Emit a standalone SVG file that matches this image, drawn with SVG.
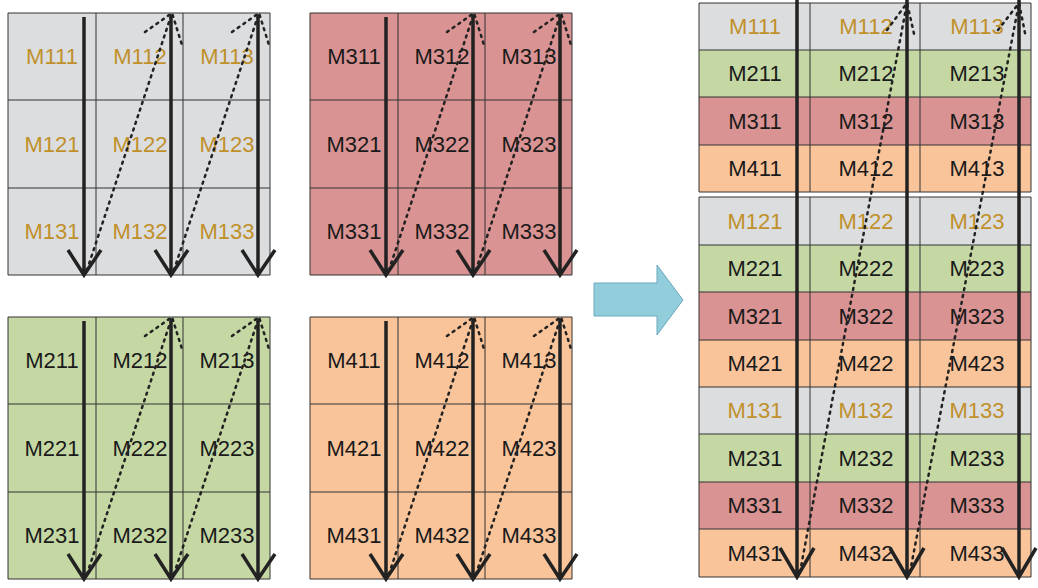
<svg xmlns="http://www.w3.org/2000/svg" width="1038" height="588" viewBox="0 0 1038 588">
<style>
text{font-family:"Liberation Sans",Arial,sans-serif;font-size:22px;text-anchor:middle;dominant-baseline:central;fill:#1a1a1a}
.o{fill:#c0902a}
.g1{fill:#dcdddf}.g2{fill:#c5d8a4}.g3{fill:#d99392}.g4{fill:#f9c49a}
.c{stroke:#333;stroke-width:1;fill:none}
.s{stroke:#222;stroke-width:3.5;fill:none}
.d{stroke:#222;stroke-width:2.5;fill:none;stroke-dasharray:2 5;stroke-linecap:round}
</style>
<g id="m1">
<rect class="g1" x="8" y="13" width="262" height="262"/>
<path class="c" d="M8 13h262v262H8zM96 13v262M183 13v262M8 100h262M8 188h262"/>
<text class="o" x="52" y="56">M111</text><text class="o" x="140" y="56">M112</text><text class="o" x="227" y="56">M113</text>
<text class="o" x="52" y="144">M121</text><text class="o" x="140" y="144">M122</text><text class="o" x="227" y="144">M123</text>
<text class="o" x="52" y="231">M131</text><text class="o" x="140" y="231">M132</text><text class="o" x="227" y="231">M133</text>
</g>
<g id="m3">
<rect class="g3" x="310" y="13" width="262" height="262"/>
<path class="c" d="M310 13h262v262H310zM398 13v262M485 13v262M310 100h262M310 188h262"/>
<text x="354" y="56">M311</text><text x="442" y="56">M312</text><text x="529" y="56">M313</text>
<text x="354" y="144">M321</text><text x="442" y="144">M322</text><text x="529" y="144">M323</text>
<text x="354" y="231">M331</text><text x="442" y="231">M332</text><text x="529" y="231">M333</text>
</g>
<g id="m2">
<rect class="g2" x="8" y="317" width="262" height="262"/>
<path class="c" d="M8 317h262v262H8zM96 317v262M183 317v262M8 404h262M8 492h262"/>
<text x="52" y="360">M211</text><text x="140" y="360">M212</text><text x="227" y="360">M213</text>
<text x="52" y="448">M221</text><text x="140" y="448">M222</text><text x="227" y="448">M223</text>
<text x="52" y="535">M231</text><text x="140" y="535">M232</text><text x="227" y="535">M233</text>
</g>
<g id="m4">
<rect class="g4" x="310" y="317" width="262" height="262"/>
<path class="c" d="M310 317h262v262H310zM398 317v262M485 317v262M310 404h262M310 492h262"/>
<text x="354" y="360">M411</text><text x="442" y="360">M412</text><text x="529" y="360">M413</text>
<text x="354" y="448">M421</text><text x="442" y="448">M422</text><text x="529" y="448">M423</text>
<text x="354" y="535">M431</text><text x="442" y="535">M432</text><text x="529" y="535">M433</text>
</g>
<g id="big-arrow">
<path d="M594 283h63v-18l26 35-26 35v-19h-63z" fill="#92cddc" stroke="#6aa9bd" stroke-width="1"/>
</g>
<g id="stack">
<rect class="g1" x="699" y="3" width="332" height="47"/>
<rect class="g2" x="699" y="50" width="332" height="47"/>
<rect class="g3" x="699" y="97" width="332" height="48"/>
<rect class="g4" x="699" y="145" width="332" height="47"/>
<rect class="g1" x="699" y="197" width="332" height="48"/>
<rect class="g2" x="699" y="245" width="332" height="47"/>
<rect class="g3" x="699" y="292" width="332" height="48"/>
<rect class="g4" x="699" y="340" width="332" height="47"/>
<rect class="g1" x="699" y="387" width="332" height="47"/>
<rect class="g2" x="699" y="434" width="332" height="48"/>
<rect class="g3" x="699" y="482" width="332" height="47"/>
<rect class="g4" x="699" y="529" width="332" height="48"/>
<path class="c" d="M699 3h332v189H699zM699 50h332M699 97h332M699 145h332M810 3v189M920 3v189"/>
<path class="c" d="M699 197h332v380H699zM699 245h332M699 292h332M699 340h332M699 387h332M699 434h332M699 482h332M699 529h332M810 197v380M920 197v380"/>
<text class="o" x="755" y="26">M111</text><text class="o" x="866" y="26">M112</text><text class="o" x="977" y="26">M113</text>
<text x="755" y="73">M211</text><text x="866" y="73">M212</text><text x="977" y="73">M213</text>
<text x="755" y="121">M311</text><text x="866" y="121">M312</text><text x="977" y="121">M313</text>
<text x="755" y="168">M411</text><text x="866" y="168">M412</text><text x="977" y="168">M413</text>
<text class="o" x="755" y="221">M121</text><text class="o" x="866" y="221">M122</text><text class="o" x="977" y="221">M123</text>
<text x="755" y="268">M221</text><text x="866" y="268">M222</text><text x="977" y="268">M223</text>
<text x="755" y="316">M321</text><text x="866" y="316">M322</text><text x="977" y="316">M323</text>
<text x="755" y="363">M421</text><text x="866" y="363">M422</text><text x="977" y="363">M423</text>
<text class="o" x="755" y="410">M131</text><text class="o" x="866" y="410">M132</text><text class="o" x="977" y="410">M133</text>
<text x="755" y="458">M231</text><text x="866" y="458">M232</text><text x="977" y="458">M233</text>
<text x="755" y="505">M331</text><text x="866" y="505">M332</text><text x="977" y="505">M333</text>
<text x="755" y="553">M431</text><text x="866" y="553">M432</text><text x="977" y="553">M433</text>
</g>
<g id="connectors">
<path class="s" d="M84 17v258M68 250l16 25 17-25M171 17v258M155 250l16 25 17-25M258 17v258M242 250l16 25 17-25"/>
<path class="d" d="M87 270L172 13M145 32l27-19 10 32M174 270L259 13M232 32l27-19 10 32"/>
<path class="s" d="M386 17v258M370 250l16 25 17-25M473 17v258M457 250l16 25 17-25M560 17v258M544 250l16 25 17-25"/>
<path class="d" d="M389 270L474 13M447 32l27-19 10 32M476 270L561 13M534 32l27-19 10 32"/>
<path class="s" d="M84 321v258M68 554l16 25 17-25M171 321v258M155 554l16 25 17-25M258 321v258M242 554l16 25 17-25"/>
<path class="d" d="M87 574L172 317M145 336l27-19 10 32M174 574L259 317M232 336l27-19 10 32"/>
<path class="s" d="M386 321v258M370 554l16 25 17-25M473 321v258M457 554l16 25 17-25M560 321v258M544 554l16 25 17-25"/>
<path class="d" d="M389 574L474 317M447 336l27-19 10 32M476 574L561 317M534 336l27-19 10 32"/>
<path class="s" d="M797 0v577M780 548l17 29 17-29M907 0v577M890 548l17 29 17-29M1019 0v577M1002 548l17 29 17-29"/>
<path class="d" d="M800 572L907 3M887 30l20-27 8 35M910 572L1019 3M998 30l21-27 7 35"/>
</g>
</svg>
